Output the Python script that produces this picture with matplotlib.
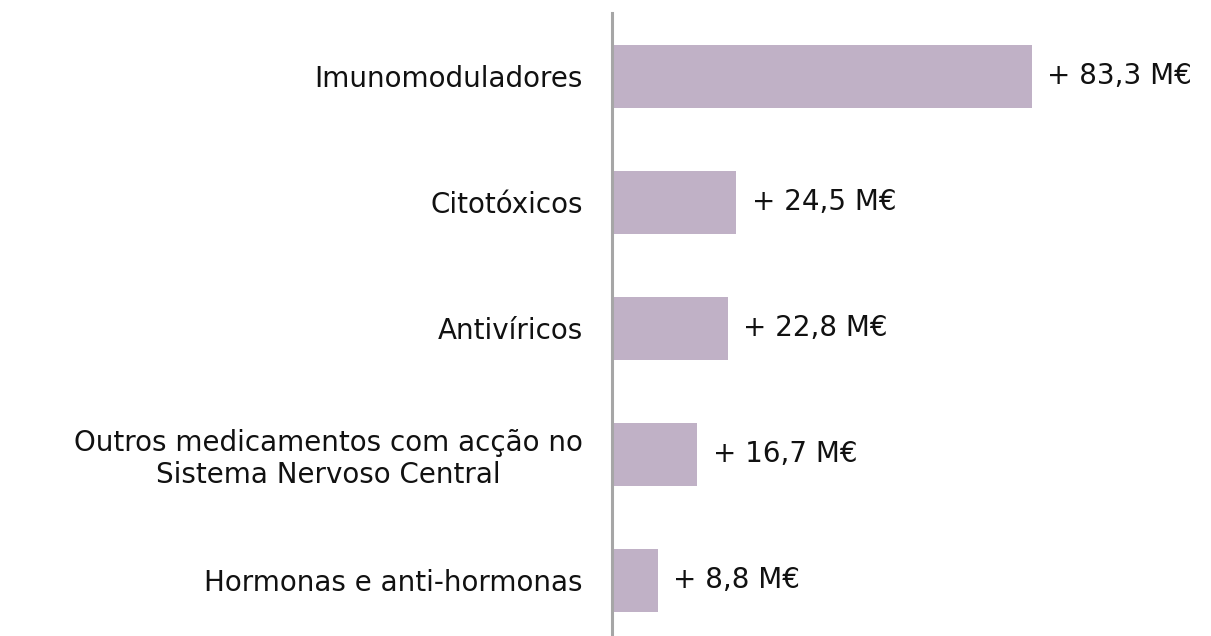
import numpy as np
import matplotlib.pyplot as plt

# categories top to bottom, values in M€
categories = ['Imunomoduladores', 'Citotóxicos', 'Antivíricos',
              'Outros medicamentos com acção no\nSistema Nervoso Central',
              'Hormonas e anti-hormonas']
values = [83.3, 24.5, 22.8, 16.7, 8.8]
labels = ['+ 83,3 M€', '+ 24,5 M€', '+ 22,8 M€', '+ 16,7 M€', '+ 8,8 M€']

plt.rcParams['font.family'] = ['DejaVu Sans']

fig = plt.figure(figsize=(12.11, 6.36), dpi=100)
W, H = 1211, 636
# axes placed in pixel terms: spine at x=612, 5 rows of 126 px, top at 13
ax = fig.add_axes([612 / W, (636 - 643) / H, 502 / W, 630 / H])

y = np.arange(len(categories))[::-1]
ax.barh(y, values, height=0.5, color='#c0b1c6', left=0.3)
ax.set_xlim(0, 100)
ax.set_ylim(-0.5, 4.5)

for yi, v, lab in zip(y, values, labels):
    ax.annotate(lab, (v + 0.3, yi), xytext=(11, 0), textcoords='offset points',
                va='center', ha='left', fontsize=20, color='#111111')

ax.set_yticks(y)
ax.set_yticklabels(categories, fontsize=20, color='#111111', ha='right',
                   multialignment='center', linespacing=1.2)
ax.tick_params(axis='y', length=0, pad=21)
ax.set_xticks([])
for s in ['top', 'right', 'bottom']:
    ax.spines[s].set_visible(False)
ax.spines['left'].set_color('#a6a6a6')
ax.spines['left'].set_linewidth(2.2)

fig.savefig('out.png', dpi=100)
